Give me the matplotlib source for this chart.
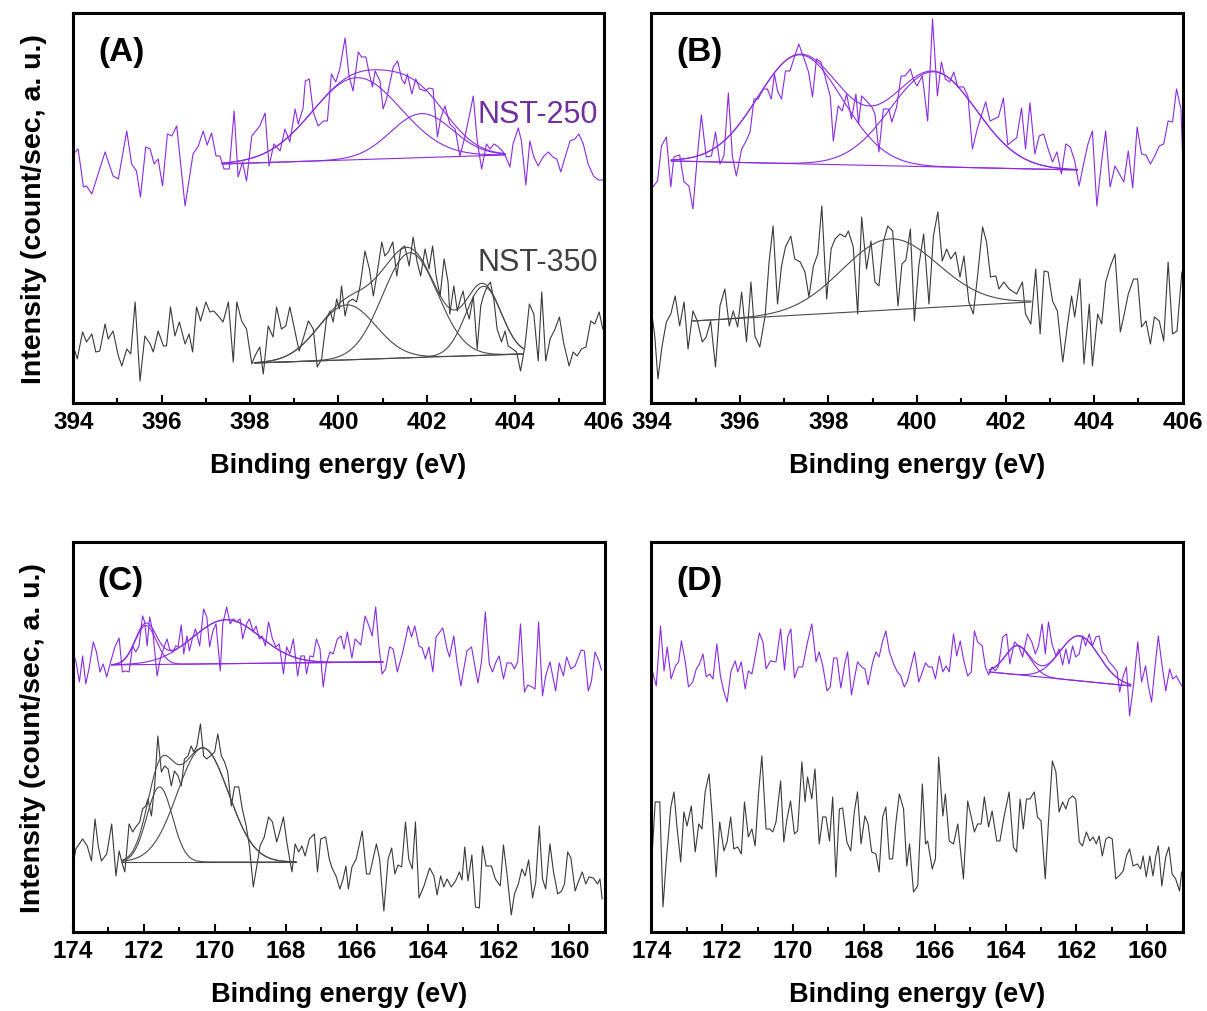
import numpy as np
import matplotlib.pyplot as plt
from matplotlib.ticker import MultipleLocator

plt.rcParams["font.family"] = ["Liberation Sans", "DejaVu Sans"]

# ---- (A) N 1s ----
a250_e = [394.00, 394.11, 394.23, 394.30, 394.42, 394.72, 394.90, 395.02, 395.21, 395.32,
          395.43, 395.52, 395.64, 395.74, 395.83, 395.92, 396.02, 396.13, 396.23, 396.34,
          396.53, 396.71, 396.83, 396.94, 397.03, 397.13, 397.23, 397.32, 397.41, 397.53,
          397.64, 397.73, 397.83, 397.92, 398.04, 398.22, 398.34, 398.43, 398.54, 398.68,
          398.79, 398.90, 399.02, 399.09, 399.20, 399.25, 399.34, 399.43, 399.54, 399.66,
          399.75, 399.84, 399.94, 400.03, 400.15, 400.24, 400.33, 400.45, 400.52, 400.62,
          400.70, 400.77, 400.83, 400.94, 401.01, 401.09, 401.15, 401.24, 401.34, 401.43,
          401.50, 401.56, 401.66, 401.75, 401.84, 401.96, 402.05, 402.14, 402.24, 402.31,
          402.41, 402.52, 402.64, 402.75, 402.86, 402.97, 403.05, 403.14, 403.24, 403.35,
          403.43, 403.52, 403.62, 403.71, 403.78, 403.88, 403.95, 404.07, 404.14, 404.24,
          404.33, 404.42, 404.52, 404.63, 404.75, 404.85, 404.94, 405.03, 405.15, 405.24,
          405.35, 405.44, 405.54, 405.65, 405.77, 405.88, 405.98]
a250_i = [249, 254, 216, 217, 209, 251, 227, 224, 272, 239,
          232, 206, 256, 254, 239, 244, 217, 269, 267, 277,
          197, 249, 257, 272, 258, 270, 247, 247, 234, 234,
          292, 226, 241, 222, 267, 277, 290, 237, 259, 252,
          274, 261, 294, 279, 295, 322, 324, 291, 277, 282,
          282, 329, 321, 334, 365, 327, 312, 351, 346, 346,
          329, 316, 332, 322, 294, 304, 317, 336, 342, 324,
          319, 329, 309, 324, 314, 312, 315, 314, 266, 284,
          297, 279, 274, 247, 266, 289, 307, 262, 234, 259,
          254, 259, 256, 252, 247, 236, 259, 275, 262, 218,
          262, 246, 237, 246, 251, 246, 244, 231, 249, 262,
          264, 269, 259, 239, 227, 223, 223]

a350_e = [394.00, 394.09, 394.21, 394.30, 394.42, 394.51, 394.60, 394.72, 394.79, 394.90,
          395.02, 395.10, 395.21, 395.30, 395.40, 395.51, 395.62, 395.74, 395.81, 395.92,
          396.04, 396.11, 396.20, 396.30, 396.40, 396.53, 396.62, 396.70, 396.79, 396.88,
          397.00, 397.09, 397.18, 397.30, 397.39, 397.51, 397.62, 397.70, 397.81, 397.92,
          398.04, 398.11, 398.22, 398.30, 398.41, 398.52, 398.60, 398.71, 398.81, 398.90,
          399.02, 399.11, 399.20, 399.32, 399.43, 399.52, 399.62, 399.73, 399.81, 399.88,
          399.96, 400.02, 400.07, 400.15, 400.22, 400.32, 400.41, 400.49, 400.60, 400.70,
          400.79, 400.88, 400.98, 401.05, 401.13, 401.23, 401.32, 401.41, 401.50, 401.60,
          401.69, 401.78, 401.86, 401.96, 402.05, 402.13, 402.21, 402.30, 402.39, 402.48,
          402.52, 402.61, 402.69, 402.76, 402.82, 402.88, 402.96, 403.05, 403.14, 403.22,
          403.28, 403.37, 403.44, 403.52, 403.59, 403.69, 403.77, 403.84, 403.94, 404.03,
          404.12, 404.22, 404.32, 404.42, 404.52, 404.60, 404.69, 404.79, 404.90, 405.00,
          405.10, 405.22, 405.31, 405.40, 405.50, 405.60, 405.71, 405.80, 405.90, 405.98]
a350_i = [57, 44, 71, 61, 69, 51, 52, 79, 64, 72,
          47, 37, 54, 49, 101, 22, 67, 59, 51, 72,
          57, 57, 96, 67, 81, 59, 69, 51, 96, 82,
          101, 91, 92, 86, 81, 101, 41, 101, 82, 74,
          39, 47, 56, 29, 77, 66, 96, 74, 77, 96,
          71, 52, 64, 82, 74, 36, 44, 84, 92, 81,
          104, 94, 117, 87, 101, 104, 101, 117, 152, 134,
          107, 131, 161, 147, 151, 161, 127, 154, 157, 137,
          166, 141, 127, 154, 134, 157, 127, 107, 144, 121,
          89, 117, 92, 104, 112, 96, 84, 107, 54, 97,
          107, 117, 121, 102, 74, 61, 72, 57, 54, 51,
          32, 57, 99, 89, 42, 111, 42, 64, 74, 86,
          59, 37, 51, 47, 54, 56, 82, 79, 91, 74]

# ---- (B) N 1s ----
b250_e = [394.00, 394.14, 394.23, 394.34, 394.44, 394.51, 394.64, 394.74, 394.85, 394.94,
          395.04, 395.13, 395.24, 395.36, 395.45, 395.55, 395.64, 395.74, 395.83, 395.92,
          396.04, 396.13, 396.23, 396.32, 396.41, 396.53, 396.62, 396.71, 396.78, 396.85,
          396.94, 397.03, 397.13, 397.24, 397.33, 397.43, 397.55, 397.64, 397.73, 397.83,
          397.92, 398.04, 398.11, 398.22, 398.31, 398.41, 398.52, 398.62, 398.68, 398.75,
          398.86, 398.98, 399.05, 399.14, 399.24, 399.36, 399.43, 399.54, 399.64, 399.73,
          399.85, 399.93, 400.00, 400.12, 400.24, 400.35, 400.46, 400.55, 400.64, 400.74,
          400.83, 400.92, 401.05, 401.15, 401.25, 401.36, 401.45, 401.55, 401.65, 401.74,
          401.84, 401.95, 402.05, 402.15, 402.25, 402.36, 402.45, 402.55, 402.66, 402.76,
          402.86, 402.96, 403.06, 403.16, 403.26, 403.36, 403.46, 403.56, 403.66, 403.76,
          403.86, 403.96, 404.06, 404.17, 404.26, 404.36, 404.47, 404.57, 404.67, 404.77,
          404.87, 404.97, 405.07, 405.17, 405.27, 405.37, 405.47, 405.57, 405.67, 405.77,
          405.86, 405.96, 406.00]
b250_i = [214, 222, 257, 266, 216, 246, 248, 221, 217, 194,
          247, 288, 246, 247, 271, 239, 247, 310, 247, 227,
          254, 261, 271, 304, 304, 314, 314, 304, 329, 312,
          304, 332, 332, 347, 359, 347, 331, 306, 344, 341,
          327, 307, 262, 297, 292, 309, 284, 309, 279, 307,
          302, 296, 289, 251, 294, 294, 281, 296, 327, 327,
          334, 322, 317, 327, 282, 384, 307, 341, 324, 321,
          331, 316, 316, 307, 254, 274, 287, 301, 282, 284,
          286, 305, 258, 262, 265, 295, 254, 300, 249, 267,
          269, 254, 241, 251, 229, 259, 256, 242, 217, 239,
          259, 272, 197, 242, 272, 216, 237, 229, 221, 252,
          215, 276, 249, 248, 239, 247, 257, 259, 282, 281,
          314, 294, 244]

b350_e = [394.00, 394.08, 394.15, 394.24, 394.34, 394.44, 394.54, 394.64, 394.74, 394.83,
          394.94, 395.04, 395.15, 395.24, 395.34, 395.45, 395.55, 395.66, 395.76, 395.85,
          395.95, 396.04, 396.15, 396.25, 396.34, 396.45, 396.57, 396.66, 396.75, 396.85,
          396.94, 397.03, 397.15, 397.24, 397.36, 397.47, 397.56, 397.66, 397.76, 397.85,
          397.96, 398.06, 398.15, 398.26, 398.38, 398.45, 398.56, 398.66, 398.75, 398.86,
          398.96, 399.05, 399.14, 399.24, 399.34, 399.45, 399.57, 399.66, 399.75, 399.85,
          399.94, 400.04, 400.15, 400.27, 400.37, 400.47, 400.57, 400.67, 400.76, 400.87,
          400.97, 401.06, 401.17, 401.27, 401.36, 401.48, 401.57, 401.66, 401.78, 401.85,
          401.96, 402.08, 402.25, 402.38, 402.45, 402.57, 402.68, 402.78, 402.87, 402.96,
          403.06, 403.17, 403.29, 403.40, 403.49, 403.56, 403.68, 403.77, 403.89, 403.96,
          404.08, 404.17, 404.26, 404.36, 404.47, 404.59, 404.68, 404.77, 404.89, 404.98,
          405.07, 405.17, 405.27, 405.36, 405.47, 405.57, 405.67, 405.77, 405.87, 405.98]
b350_i = [94, 66, 24, 56, 81, 89, 107, 77, 101, 54,
          92, 82, 61, 66, 82, 36, 97, 114, 77, 92,
          76, 111, 61, 121, 67, 56, 87, 141, 177, 99,
          137, 156, 167, 144, 141, 131, 106, 137, 149, 197,
          104, 154, 164, 169, 166, 172, 156, 89, 186, 134,
          162, 121, 117, 161, 177, 172, 97, 139, 143, 174,
          82, 137, 169, 99, 167, 191, 142, 154, 144, 151,
          126, 147, 101, 89, 124, 176, 161, 126, 127, 114,
          121, 114, 109, 121, 89, 79, 134, 69, 132, 131,
          102, 92, 41, 79, 107, 86, 124, 39, 99, 37,
          89, 79, 121, 136, 149, 71, 89, 109, 124, 124,
          76, 82, 59, 86, 82, 62, 141, 69, 72, 131]

# ---- (C) S 2p ----
c250_e = [174.00, 173.91, 173.81, 173.72, 173.63, 173.53, 173.42, 173.33, 173.23, 173.14,
          173.04, 172.93, 172.81, 172.69, 172.60, 172.50, 172.41, 172.31, 172.22, 172.13,
          172.03, 171.97, 171.90, 171.83, 171.74, 171.62, 171.53, 171.44, 171.34, 171.27,
          171.17, 171.10, 171.03, 170.94, 170.87, 170.78, 170.71, 170.63, 170.54, 170.42,
          170.31, 170.22, 170.14, 170.05, 169.96, 169.84, 169.77, 169.66, 169.56, 169.47,
          169.39, 169.28, 169.21, 169.10, 169.02, 168.91, 168.83, 168.74, 168.66, 168.57,
          168.48, 168.37, 168.27, 168.18, 168.06, 167.97, 167.88, 167.78, 167.66, 167.57,
          167.47, 167.41, 167.31, 167.22, 167.13, 167.03, 166.94, 166.85, 166.75, 166.66,
          166.54, 166.44, 166.35, 166.26, 166.13, 166.04, 165.88, 165.76, 165.65, 165.56,
          165.46, 165.37, 165.28, 165.18, 165.07, 164.97, 164.85, 164.69, 164.54, 164.45,
          164.36, 164.24, 164.15, 164.06, 163.96, 163.85, 163.76, 163.57, 163.45, 163.38,
          163.26, 163.17, 163.06, 162.89, 162.76, 162.58, 162.48, 162.37, 162.26, 162.17,
          162.07, 161.98, 161.86, 161.76, 161.64, 161.55, 161.46, 161.38, 161.27, 161.17,
          161.06, 160.97, 160.87, 160.76, 160.67, 160.55, 160.39, 160.29, 160.17, 160.08,
          159.96, 159.84, 159.67, 159.58, 159.47, 159.38, 159.28, 159.17, 159.10]
c250_i = [280, 271, 250, 276, 248, 265, 290, 280, 260, 268,
          255, 270, 285, 294, 260, 261, 260, 286, 280, 286,
          316, 310, 286, 315, 300, 256, 273, 283, 293, 283,
          280, 286, 285, 307, 278, 296, 281, 293, 303, 286,
          323, 315, 285, 301, 308, 261, 308, 325, 308, 313,
          310, 313, 293, 308, 313, 300, 306, 293, 296, 286,
          310, 293, 285, 288, 258, 285, 278, 293, 256, 276,
          276, 258, 276, 275, 293, 283, 245, 268, 280, 278,
          293, 296, 283, 300, 274, 293, 287, 316, 306, 296,
          325, 286, 258, 263, 285, 283, 260, 281, 306, 295,
          306, 286, 284, 273, 285, 260, 295, 304, 283, 275,
          296, 270, 246, 281, 285, 249, 270, 320, 268, 260,
          270, 276, 253, 269, 269, 263, 270, 308, 240, 247,
          245, 243, 310, 236, 256, 270, 241, 269, 256, 275,
          263, 266, 282, 281, 241, 251, 280, 271, 262]

c350_e = [174.00, 173.91, 173.72, 173.59, 173.47, 173.37, 173.28, 173.19, 173.04, 172.90,
          172.78, 172.69, 172.60, 172.53, 172.41, 172.31, 172.22, 172.11, 172.03, 171.94,
          171.88, 171.78, 171.69, 171.60, 171.50, 171.41, 171.31, 171.22, 171.13, 171.03,
          170.94, 170.85, 170.75, 170.66, 170.59, 170.50, 170.40, 170.31, 170.22, 170.12,
          170.00, 169.91, 169.81, 169.72, 169.63, 169.53, 169.44, 169.32, 169.22, 169.11,
          169.02, 168.91, 168.81, 168.72, 168.60, 168.48, 168.37, 168.25, 168.16, 168.06,
          167.97, 167.90, 167.82, 167.73, 167.63, 167.54, 167.45, 167.33, 167.19, 167.10,
          167.01, 166.87, 166.77, 166.68, 166.58, 166.47, 166.38, 166.30, 166.23, 166.13,
          166.01, 165.84, 165.72, 165.63, 165.44, 165.35, 165.23, 165.11, 165.01, 164.92,
          164.83, 164.73, 164.62, 164.53, 164.43, 164.34, 164.24, 164.10, 163.94, 163.82,
          163.73, 163.63, 163.54, 163.45, 163.33, 163.21, 163.10, 163.03, 162.95, 162.86,
          162.75, 162.65, 162.54, 162.45, 162.35, 162.20, 162.09, 161.95, 161.86, 161.76,
          161.64, 161.55, 161.44, 161.34, 161.25, 161.15, 161.04, 160.95, 160.85, 160.76,
          160.67, 160.55, 160.45, 160.33, 160.22, 160.14, 160.05, 159.96, 159.84, 159.75,
          159.64, 159.54, 159.45, 159.33, 159.21, 159.14, 159.08]
c350_i = [65, 83, 93, 86, 71, 113, 86, 71, 78, 108,
          56, 81, 68, 60, 108, 100, 105, 110, 123, 126,
          133, 116, 146, 196, 160, 166, 163, 146, 161, 156,
          146, 173, 176, 186, 180, 186, 208, 176, 173, 176,
          180, 198, 176, 170, 160, 126, 145, 145, 123, 106,
          86, 45, 66, 86, 95, 115, 110, 90, 101, 115,
          91, 76, 60, 88, 80, 86, 76, 93, 98, 60,
          93, 95, 73, 63, 56, 43, 53, 66, 43, 65,
          73, 101, 58, 58, 88, 73, 21, 73, 84, 58,
          67, 65, 110, 73, 63, 110, 34, 46, 64, 56,
          37, 56, 45, 53, 45, 51, 60, 52, 85, 51,
          77, 25, 24, 86, 66, 66, 53, 46, 87, 58,
          17, 38, 48, 63, 56, 72, 34, 50, 106, 53,
          43, 88, 60, 38, 41, 48, 80, 74, 41, 50,
          60, 48, 55, 54, 48, 53, 33]

# ---- (D) S 2p ----
d250_e = [174.00, 173.86, 173.74, 173.64, 173.55, 173.44, 173.32, 173.23, 173.15, 173.04,
          172.95, 172.83, 172.73, 172.64, 172.54, 172.45, 172.35, 172.26, 172.15, 172.05,
          171.95, 171.86, 171.75, 171.63, 171.56, 171.46, 171.35, 171.26, 171.16, 171.07,
          170.95, 170.85, 170.76, 170.64, 170.48, 170.35, 170.24, 170.15, 170.06, 169.96,
          169.85, 169.73, 169.59, 169.47, 169.35, 169.26, 169.16, 169.04, 168.95, 168.85,
          168.76, 168.65, 168.54, 168.46, 168.35, 168.18, 168.06, 167.97, 167.88, 167.75,
          167.66, 167.57, 167.47, 167.38, 167.28, 167.16, 167.07, 166.96, 166.86, 166.77,
          166.57, 166.45, 166.35, 166.26, 166.17, 166.07, 165.98, 165.87, 165.77, 165.68,
          165.59, 165.47, 165.38, 165.28, 165.19, 165.07, 164.97, 164.88, 164.79, 164.66,
          164.57, 164.48, 164.38, 164.29, 164.20, 164.08, 163.97, 163.88, 163.75, 163.63,
          163.52, 163.38, 163.26, 163.16, 163.07, 162.97, 162.88, 162.79, 162.69, 162.58,
          162.49, 162.39, 162.30, 162.21, 162.11, 162.02, 161.92, 161.83, 161.74, 161.64,
          161.55, 161.45, 161.36, 161.27, 161.17, 161.08, 160.97, 160.85, 160.78, 160.68,
          160.59, 160.50, 160.38, 160.27, 160.16, 160.05, 159.97, 159.88, 159.78, 159.69,
          159.59, 159.48, 159.37, 159.28, 159.18, 159.03]
d250_i = [265, 246, 306, 261, 285, 253, 266, 270, 291, 270,
          245, 250, 263, 268, 278, 255, 258, 253, 288, 256,
          240, 230, 261, 271, 260, 270, 243, 261, 258, 275,
          299, 290, 263, 271, 270, 303, 262, 295, 303, 254,
          265, 265, 290, 308, 270, 280, 266, 241, 245, 274,
          274, 244, 268, 280, 237, 270, 265, 263, 247, 270,
          280, 275, 291, 301, 280, 268, 261, 256, 245, 251,
          280, 250, 260, 269, 265, 265, 253, 276, 260, 266,
          260, 298, 276, 291, 273, 256, 260, 301, 290, 286,
          265, 257, 265, 261, 266, 295, 298, 268, 290, 286,
          275, 298, 290, 278, 286, 308, 278, 310, 288, 276,
          283, 267, 283, 268, 286, 275, 278, 296, 286, 298,
          286, 295, 296, 280, 276, 270, 266, 260, 240, 256,
          265, 216, 250, 290, 250, 266, 246, 230, 266, 296,
          268, 241, 263, 253, 256, 246]

d350_e = [174.00, 173.89, 173.76, 173.67, 173.58, 173.45, 173.36, 173.27, 173.17, 173.08,
          172.99, 172.87, 172.76, 172.66, 172.57, 172.48, 172.37, 172.29, 172.17, 172.07,
          171.95, 171.86, 171.76, 171.67, 171.56, 171.46, 171.37, 171.26, 171.16, 171.07,
          170.97, 170.88, 170.76, 170.66, 170.57, 170.48, 170.35, 170.26, 170.17, 170.07,
          169.96, 169.87, 169.75, 169.66, 169.59, 169.47, 169.38, 169.26, 169.16, 169.07,
          168.97, 168.88, 168.79, 168.69, 168.60, 168.48, 168.37, 168.27, 168.18, 168.08,
          167.97, 167.88, 167.78, 167.66, 167.57, 167.47, 167.38, 167.28, 167.19, 167.10,
          167.00, 166.88, 166.79, 166.71, 166.60, 166.48, 166.35, 166.26, 166.20, 166.07,
          165.98, 165.89, 165.77, 165.70, 165.59, 165.47, 165.35, 165.19, 165.07, 164.97,
          164.88, 164.79, 164.69, 164.60, 164.48, 164.38, 164.25, 164.16, 164.04, 163.90,
          163.78, 163.69, 163.59, 163.50, 163.41, 163.31, 163.19, 163.10, 163.00, 162.88,
          162.79, 162.68, 162.58, 162.49, 162.39, 162.30, 162.21, 162.11, 162.02, 161.92,
          161.83, 161.72, 161.62, 161.53, 161.44, 161.36, 161.27, 161.17, 161.08, 160.99,
          160.89, 160.80, 160.68, 160.59, 160.50, 160.40, 160.28, 160.19, 160.12, 160.03,
          159.93, 159.84, 159.76, 159.69, 159.59, 159.48, 159.39, 159.30, 159.20, 159.09,
          159.03]
d350_i = [63, 130, 130, 25, 70, 125, 140, 103, 70, 120,
          106, 126, 80, 108, 103, 140, 158, 120, 55, 110,
          81, 90, 115, 83, 85, 78, 130, 95, 103, 86,
          140, 176, 103, 103, 100, 110, 151, 90, 113, 131,
          98, 101, 170, 130, 155, 133, 163, 88, 115, 115,
          91, 135, 55, 123, 124, 90, 81, 120, 140, 88,
          116, 108, 80, 78, 60, 115, 125, 73, 73, 108,
          138, 123, 66, 88, 40, 46, 148, 88, 91, 63,
          73, 175, 116, 138, 91, 88, 108, 53, 131, 115,
          100, 108, 108, 135, 105, 121, 91, 91, 116, 140,
          85, 80, 133, 103, 133, 133, 140, 115, 111, 53,
          110, 171, 160, 120, 130, 123, 133, 136, 133, 90,
          86, 100, 91, 95, 88, 96, 76, 93, 95, 93,
          53, 56, 61, 76, 83, 66, 68, 63, 76, 55,
          76, 56, 76, 86, 46, 75, 85, 58, 53, 41,
          60]

# fitted peaks: linear background (start/end energy, start/end counts) + gaussian components
a250_bg_e = [397.37, 403.77]
a250_bg_i = [239, 248]
a250_pk_center = [400.41, 401.88]
a250_pk_height = [82, 44]
a250_pk_sigma = [1.00, 0.70]

a350_bg_e = [398.10, 404.18]
a350_bg_i = [40, 49]
a350_pk_center = [400.19, 401.62, 403.28]
a350_pk_height = [55, 105, 69]
a350_pk_sigma = [0.65, 0.62, 0.40]

b250_bg_e = [394.45, 403.62]
b250_bg_i = [242, 233]
b250_pk_center = [397.36, 400.37]
b250_pk_height = [109, 95]
b250_pk_sigma = [0.95, 0.97]

b350_bg_e = [394.94, 402.57]
b350_bg_i = [82, 101]
b350_pk_center = [399.39]
b350_pk_height = [71]
b350_pk_sigma = [1.08]

c250_bg_e = [172.90, 165.26]
c250_bg_i = [267, 270]
c250_pk_center = [171.94, 169.67]
c250_pk_height = [39, 44]
c250_pk_sigma = [0.30, 0.95]

c350_bg_e = [172.62, 167.71]
c350_bg_i = [70, 70]
c350_pk_center = [171.55, 170.33]
c350_pk_height = [75, 114]
c350_pk_sigma = [0.36, 0.72]

d250_bg_e = [164.46, 160.47]
d250_bg_i = [260, 246]
d250_pk_center = [163.66, 161.92]
d250_pk_height = [29, 45]
d250_pk_sigma = [0.35, 0.55]

n_ticks = [394, 396, 398, 400, 402, 404, 406]
s_ticks = [174, 172, 170, 168, 166, 164, 162, 160]

PURPLE = "#8a2be2"
GREY = "#3a3a3a"
FIT_GREY = "#4a4a4a"


def draw_fit(ax, bg_e, bg_i, centers, heights, sigmas, color):
    e = np.linspace(bg_e[0], bg_e[1], 300)
    bg = bg_i[0] + (e - bg_e[0]) * (bg_i[1] - bg_i[0]) / (bg_e[1] - bg_e[0])
    total = bg.copy()
    for c, h, s in zip(centers, heights, sigmas):
        g = h * np.exp(-(e - c) ** 2 / (2 * s ** 2))
        ax.plot(e, bg + g, color=color, lw=0.8)
        total += g
    if len(centers) > 1:
        ax.plot(e, total, color=color, lw=0.8)
    ax.plot(e, bg, color=color, lw=0.8)


def style_axes(ax, xlim, ticks, letter, ylabel):
    ax.set_xlim(*xlim)
    ax.set_ylim(0, 390)
    ax.set_xticks(ticks)
    ax.set_xticklabels([str(t) for t in ticks], fontsize=17.5, fontweight="bold")
    ax.xaxis.set_minor_locator(MultipleLocator(1))
    ax.set_yticks([])
    ax.tick_params(which="major", direction="in", width=1.5, length=6, pad=5)
    ax.tick_params(which="minor", direction="in", width=1.5, length=3.5)
    for sp in ax.spines.values():
        sp.set_linewidth(2.2)
    ax.set_xlabel("Binding energy (eV)", fontsize=19.5, fontweight="bold", labelpad=14)
    if ylabel:
        ax.set_ylabel("Intensity (count/sec, a. u.)", fontsize=20.5, fontweight="bold", labelpad=19)
    ax.text(0.047, 0.9, letter, transform=ax.transAxes, fontsize=24,
            fontweight="bold", va="center", ha="left")


fig = plt.figure(figsize=(12.07, 10.12), dpi=100)
ax_a = fig.add_axes([0.0607, 0.6008, 0.4394, 0.3854])
ax_b = fig.add_axes([0.5396, 0.6008, 0.4403, 0.3854])
ax_c = fig.add_axes([0.0602, 0.0781, 0.4410, 0.3854])
ax_d = fig.add_axes([0.5396, 0.0781, 0.4403, 0.3854])

# (A)
ax_a.plot(a250_e, a250_i, color=PURPLE, lw=0.8)
ax_a.plot(a350_e, a350_i, color=GREY, lw=0.8)
draw_fit(ax_a, a250_bg_e, a250_bg_i, a250_pk_center, a250_pk_height, a250_pk_sigma, PURPLE)
draw_fit(ax_a, a350_bg_e, a350_bg_i, a350_pk_center, a350_pk_height, a350_pk_sigma, FIT_GREY)
ax_a.text(0.989, 0.742, "NST-250", transform=ax_a.transAxes, fontsize=22,
          color="#7030a0", ha="right", va="center")
ax_a.text(0.989, 0.362, "NST-350", transform=ax_a.transAxes, fontsize=22,
          color="#404040", ha="right", va="center")
style_axes(ax_a, (394, 406), n_ticks, "(A)", True)

# (B)
ax_b.plot(b250_e, b250_i, color=PURPLE, lw=0.8)
ax_b.plot(b350_e, b350_i, color=GREY, lw=0.8)
draw_fit(ax_b, b250_bg_e, b250_bg_i, b250_pk_center, b250_pk_height, b250_pk_sigma, PURPLE)
draw_fit(ax_b, b350_bg_e, b350_bg_i, b350_pk_center, b350_pk_height, b350_pk_sigma, FIT_GREY)
style_axes(ax_b, (394, 406), n_ticks, "(B)", False)

# (C)
ax_c.plot(c250_e, c250_i, color=PURPLE, lw=0.8)
ax_c.plot(c350_e, c350_i, color=GREY, lw=0.8)
draw_fit(ax_c, c250_bg_e, c250_bg_i, c250_pk_center, c250_pk_height, c250_pk_sigma, PURPLE)
draw_fit(ax_c, c350_bg_e, c350_bg_i, c350_pk_center, c350_pk_height, c350_pk_sigma, FIT_GREY)
style_axes(ax_c, (174, 159), s_ticks, "(C)", True)

# (D)
ax_d.plot(d250_e, d250_i, color=PURPLE, lw=0.8)
ax_d.plot(d350_e, d350_i, color=GREY, lw=0.8)
draw_fit(ax_d, d250_bg_e, d250_bg_i, d250_pk_center, d250_pk_height, d250_pk_sigma, PURPLE)
style_axes(ax_d, (174, 159), s_ticks, "(D)", False)

fig.savefig("out.png", dpi=100)
